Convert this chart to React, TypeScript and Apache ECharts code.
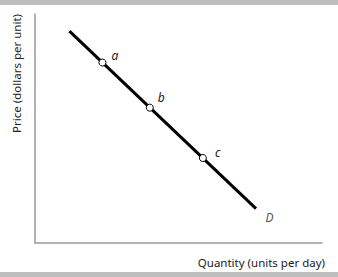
import React, { useEffect, useRef } from "react";
import * as echarts from "echarts";

const curveX = [1.2, 7.7];
const curveY = [9.25, 1.5];
const curveName = "D";
const pointNames = ["a", "b", "c"];
const pointX = [2.35, 4.0, 5.85];
const pointY = [7.88, 5.91, 3.71];
const xTitle = "Quantity (units per day)";
const yTitle = "Price (dollars per unit)";

const FONT = "'Noto Sans', 'DejaVu Sans', sans-serif";

export default function App() {
  const ref = useRef<HTMLDivElement>(null);
  useEffect(() => {
    if (!ref.current) return;
    const chart = echarts.init(ref.current, undefined, { renderer: "svg" });
    const labelOffsets: number[][] = [
      [0, -7],
      [-1, -10],
      [3, -6],
    ];
    const last = curveX.length - 1;
    chart.setOption({
      animation: false,
      backgroundColor: "#ffffff",
      grid: { left: 35, right: 16, top: 14, bottom: 34 },
      xAxis: {
        type: "value",
        min: 0,
        max: 10,
        axisLine: { show: true, lineStyle: { color: "#9a9a9a", width: 1.5 } },
        axisTick: { show: false },
        axisLabel: { show: false },
        splitLine: { show: false },
      },
      yAxis: {
        type: "value",
        min: 0,
        max: 10,
        axisLine: { show: true, lineStyle: { color: "#9a9a9a", width: 1.5 } },
        axisTick: { show: false },
        axisLabel: { show: false },
        splitLine: { show: false },
      },
      series: [
        {
          type: "line",
          data: curveX.map((x, i) => [x, curveY[i]]),
          symbol: "none",
          lineStyle: { color: "#000", width: 3 },
          z: 2,
        },
        {
          type: "scatter",
          data: [{ value: [curveX[last], curveY[last]], name: curveName }],
          symbol: "circle",
          symbolSize: 1,
          itemStyle: { color: "rgba(0,0,0,0)" },
          label: {
            show: true,
            formatter: (p: any) => p.name,
            position: "right",
            offset: [4, 9],
            fontStyle: "italic",
            fontFamily: FONT,
            fontSize: 12,
            color: "#222",
          },
          z: 3,
        },
        {
          type: "scatter",
          data: pointX.map((x, i) => ({
            value: [x, pointY[i]],
            name: pointNames[i],
            label: { offset: labelOffsets[i] },
          })),
          symbol: "circle",
          symbolSize: 7,
          itemStyle: { color: "#fff", borderColor: "#000", borderWidth: 1, opacity: 1 },
          label: {
            show: true,
            formatter: (p: any) => p.name,
            position: "right",
            fontStyle: "italic",
            fontFamily: FONT,
            fontSize: 12,
            color: "#222",
          },
          z: 3,
        },
      ],
      graphic: [
        { type: "rect", shape: { x: 0, y: 0, width: 338, height: 5 }, style: { fill: "#bdbdbd" } },
        { type: "rect", shape: { x: 0, y: 272, width: 338, height: 5 }, style: { fill: "#bdbdbd" } },
        {
          type: "text",
          x: 325,
          y: 262,
          style: {
            text: xTitle,
            align: "right",
            verticalAlign: "middle",
            fontFamily: FONT,
            fontSize: 11.5,
            fill: "#222",
          },
        },
        {
          type: "text",
          x: 16,
          y: 14,
          rotation: Math.PI / 2,
          style: {
            text: yTitle,
            align: "right",
            verticalAlign: "middle",
            fontFamily: FONT,
            fontSize: 11.5,
            fill: "#222",
          },
        },
      ],
    });
    return () => chart.dispose();
  }, []);
  return (
    <div
      ref={ref}
      style={{ position: "absolute", left: 0, top: 0, width: 338, height: 277 }}
    />
  );
}
